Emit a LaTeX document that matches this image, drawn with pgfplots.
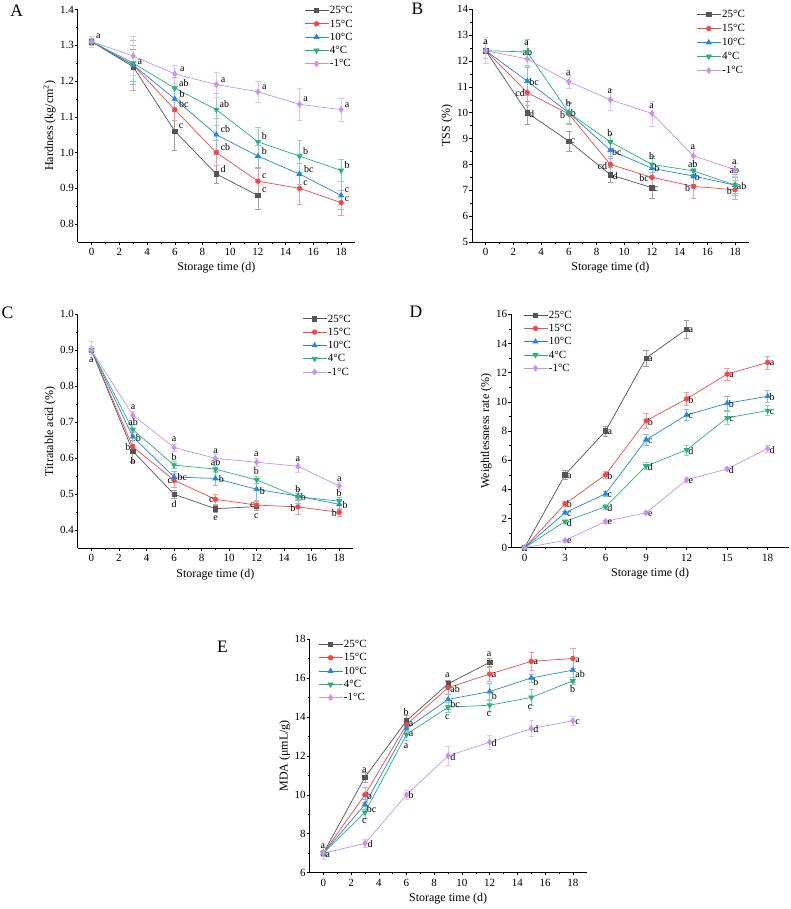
\documentclass[border=0pt]{standalone}
\usepackage{fontspec}
\setmainfont{Liberation Serif}
\usepackage{pgfplots}
\pgfplotsset{compat=1.18}
\definecolor{c25}{RGB}{85,85,85}
\definecolor{c15}{RGB}{248,70,70}
\definecolor{c10}{RGB}{30,136,229}
\definecolor{c4}{RGB}{40,178,120}
\definecolor{cm1}{RGB}{200,146,240}
\tikzset{lab/.style={font=\fontsize{10}{12}\selectfont, inner sep=0pt, text=black}}
\pgfplotsset{
  eb/.style={error bars/.cd, y dir=both, y explicit,
    error bar style={line width=0.6pt, color=#1!55},
    error mark=-,
    error mark options={rotate=90, mark size=2.7pt, line width=0.6pt, color=#1!55}},
  s25/.style={color=c25, line width=0.7pt, mark=square*, mark size=2.2pt, eb=c25},
  s15/.style={color=c15, line width=0.7pt, mark=*, mark size=2.3pt, eb=c15},
  s10/.style={color=c10, line width=0.7pt, mark=triangle*, mark size=2.9pt, eb=c10},
  s4/.style={color=c4, line width=0.7pt, mark=triangle*, mark size=2.9pt, mark options={rotate=180}, eb=c4},
  sm1/.style={color=cm1, line width=0.7pt, mark=diamond*, mark size=2.9pt, eb=cm1},
  panel/.style={
    scale only axis, axis lines=left, axis line style={-, line width=0.6pt},
    tick align=outside, major tick length=2.6pt, minor tick length=1.6pt,
    tick style={line width=0.5pt, black},
    minor x tick num=1, minor y tick num=1,
    /pgf/number format/assume math mode=true,
    ticklabel style={font=\fontsize{11}{13}\selectfont},
    yticklabel style={inner sep=1pt},
    label style={font=\fontsize{12}{14}\selectfont},
    xlabel={Storage time (d)},
    xmin=-1, xmax=19, xtick={0,2,...,18},
    legend cell align=left,
    legend style={draw=none, fill=none, inner sep=0pt, anchor=north west,
      font=\fontsize{11}{13}\selectfont, row sep=2.8pt,
      nodes={inner sep=1pt, text height=7.5pt, text depth=1pt}},
    legend image code/.code={\draw[mark repeat=2,mark phase=2] plot coordinates {(0pt,0pt) (12pt,0pt) (24pt,0pt)};},
    clip=false,
  },
}
\newcommand{\lb}[3]{\node[lab] at (axis cs:#1,#2) {#3};}
\begin{document}
\begin{tikzpicture}[x=1pt,y=1pt]
\path[use as bounding box] (0,0) rectangle (790,909);
% ---------------- A
\begin{axis}[panel, at={(77.7pt,667pt)}, anchor=south west, width=277.3pt, height=232.5pt,
  ymin=0.75, ymax=1.4, ytick={0.8,0.9,...,1.41},
  yticklabel style={/pgf/number format/.cd, fixed, fixed zerofill, precision=1},
  ylabel={Hardness (kg/cm\textsuperscript{2})},
  legend style={at={(0.816,1.019)}}]
\addplot[s25] table[x index=0,y index=1,y error index=2] {
0 1.31 0.015
3 1.24 0.05
6 1.06 0.055
9 0.94 0.025
12 0.88 0.04
};
\addplot[s15] table[x index=0,y index=1,y error index=2] {
0 1.31 0.015
3 1.245 0.07
6 1.12 0.03
9 1.00 0.035
12 0.92 0.035
15 0.90 0.045
18 0.86 0.035
};
\addplot[s10] table[x index=0,y index=1,y error index=2] {
0 1.31 0.015
3 1.245 0.055
6 1.15 0.03
9 1.05 0.045
12 0.99 0.03
15 0.94 0.03
18 0.88 0.04
};
\addplot[s4] table[x index=0,y index=1,y error index=2] {
0 1.31 0.01
3 1.25 0.05
6 1.18 0.03
9 1.12 0.045
12 1.03 0.04
15 0.99 0.045
18 0.95 0.03
};
\addplot[sm1] table[x index=0,y index=1,y error index=2] {
0 1.31 0.015
3 1.27 0.055
6 1.22 0.025
9 1.19 0.035
12 1.17 0.03
15 1.135 0.045
18 1.12 0.033
};
\legend{25°C,15°C,10°C,4°C,-1°C}
\lb{0.48}{1.326}{a}
\lb{3.48}{1.253}{a}
\lb{6.54}{1.234}{a}\lb{6.66}{1.194}{ab}\lb{6.54}{1.164}{b}\lb{6.66}{1.135}{bc}\lb{6.46}{1.073}{c}
\lb{9.49}{1.203}{a}\lb{9.58}{1.135}{ab}\lb{9.66}{1.065}{cb}\lb{9.66}{1.015}{cb}\lb{9.49}{0.954}{d}
\lb{12.47}{1.183}{a}\lb{12.47}{1.045}{b}\lb{12.47}{1.003}{b}\lb{12.47}{0.935}{c}\lb{12.47}{0.894}{c}
\lb{15.43}{1.149}{a}\lb{15.43}{1.003}{b}\lb{15.67}{0.954}{bc}\lb{15.43}{0.913}{c}
\lb{18.43}{1.132}{a}\lb{18.43}{0.964}{b}\lb{18.43}{0.895}{c}\lb{18.43}{0.870}{c}
\end{axis}
% ---------------- B
\begin{axis}[panel, at={(471.85pt,667pt)}, anchor=south west, width=277pt, height=232.7pt,
  ymin=5, ymax=14, ytick={5,6,...,14},
  ylabel={TSS (\%)},
  legend style={at={(0.81,1.001)}, row sep=3.5pt}]
\addplot[s25] table[x index=0,y index=1,y error index=2] {
0 12.4 0.5
3 10.0 0.45
6 8.9 0.38
9 7.6 0.3
12 7.1 0.42
};
\addplot[s15] table[x index=0,y index=1,y error index=2] {
0 12.4 0.3
3 10.78 0.5
6 9.95 0.4
9 8.0 0.3
12 7.5 0.3
15 7.15 0.45
18 7.02 0.35
};
\addplot[s10] table[x index=0,y index=1,y error index=2] {
0 12.4 0.3
3 11.22 0.55
6 10.0 0.4
9 8.55 0.3
12 7.85 0.4
15 7.55 0.3
18 7.2 0.4
};
\addplot[s4] table[x index=0,y index=1,y error index=2] {
0 12.4 0.3
3 12.35 0.5
6 10.0 0.4
9 8.87 0.3
12 8.0 0.3
15 7.75 0.3
18 7.2 0.3
};
\addplot[sm1] table[x index=0,y index=1,y error index=2] {
0 12.4 0.5
3 12.08 0.3
6 11.2 0.25
9 10.5 0.4
12 9.97 0.48
15 8.33 0.3
18 7.8 0.25
};
\legend{25°C,15°C,10°C,4°C,-1°C}
\lb{0}{12.71}{a}
\lb{2.96}{12.68}{a}\lb{3.01}{12.35}{ab}\lb{3.49}{11.19}{bc}\lb{2.48}{10.75}{cd}\lb{3.32}{9.96}{d}
\lb{5.97}{11.51}{a}\lb{5.97}{10.37}{b}\lb{5.56}{9.90}{b}\lb{6.33}{10.0}{b}\lb{6.3}{8.88}{c}
\lb{8.97}{10.84}{a}\lb{8.97}{9.20}{b}\lb{9.46}{8.49}{bc}\lb{8.42}{7.95}{cd}\lb{9.36}{7.53}{d}
\lb{11.98}{10.26}{a}\lb{11.98}{8.32}{b}\lb{12.35}{7.84}{b}\lb{11.43}{7.46}{bc}\lb{12.3}{7.06}{c}
\lb{14.95}{8.65}{a}\lb{14.95}{8.03}{ab}\lb{15.28}{7.51}{b}\lb{14.58}{7.10}{b}
\lb{17.95}{8.08}{a}\lb{17.95}{7.80}{ab}\lb{18.48}{7.18}{ab}\lb{17.59}{6.97}{b}
\end{axis}
% ---------------- C
\begin{axis}[panel, at={(77.7pt,360.7pt)}, anchor=south west, width=275.3pt, height=234pt,
  ymin=0.35, ymax=1.0, ytick={0.4,0.5,...,1.01},
  yticklabel style={/pgf/number format/.cd, fixed, fixed zerofill, precision=1},
  ylabel={Titratable acid (\%)},
  legend style={at={(0.815,1.004)}}]
\addplot[s25] table[x index=0,y index=1,y error index=2] {
0 0.9 0.01
3 0.62 0.03
6 0.50 0.01
9 0.46 0.01
12 0.466 0.01
};
\addplot[s15] table[x index=0,y index=1,y error index=2] {
0 0.9 0.01
3 0.632 0.04
6 0.539 0.02
9 0.486 0.013
12 0.47 0.01
15 0.465 0.02
18 0.45 0.01
};
\addplot[s10] table[x index=0,y index=1,y error index=2] {
0 0.9 0.01
3 0.66 0.02
6 0.548 0.015
9 0.544 0.02
12 0.514 0.03
15 0.495 0.02
18 0.472 0.015
};
\addplot[s4] table[x index=0,y index=1,y error index=2] {
0 0.9 0.01
3 0.68 0.015
6 0.581 0.01
9 0.57 0.01
12 0.54 0.01
15 0.493 0.01
18 0.481 0.01
};
\addplot[sm1] table[x index=0,y index=1,y error index=2] {
0 0.9 0.025
3 0.72 0.01
6 0.63 0.01
9 0.60 0.01
12 0.589 0.01
15 0.578 0.018
18 0.523 0.01
};
\legend{25°C,15°C,10°C,4°C,-1°C}
\lb{0}{0.873}{a}
\lb{3.02}{0.741}{a}\lb{3.02}{0.70}{ab}\lb{3.4}{0.657}{b}\lb{2.65}{0.63}{b}\lb{3.02}{0.593}{b}
\lb{6.0}{0.652}{a}\lb{6.0}{0.604}{b}\lb{6.61}{0.548}{bc}\lb{5.69}{0.537}{c}\lb{6.0}{0.474}{d}
\lb{9.02}{0.62}{a}\lb{9.02}{0.589}{ab}\lb{9.43}{0.541}{b}\lb{8.71}{0.485}{c}\lb{9.02}{0.434}{e}
\lb{11.98}{0.611}{a}\lb{11.98}{0.564}{b}\lb{12.41}{0.51}{b}\lb{11.69}{0.47}{c}\lb{11.98}{0.439}{c}
\lb{15.0}{0.598}{a}\lb{15.0}{0.514}{b}\lb{15.4}{0.493}{b}\lb{14.63}{0.463}{b}
\lb{18.0}{0.543}{a}\lb{18.0}{0.504}{b}\lb{18.42}{0.47}{b}\lb{17.64}{0.448}{b}
\end{axis}
% ---------------- D
\begin{axis}[panel, at={(511pt,361.3pt)}, anchor=south west, width=278.3pt, height=233.4pt,
  xmin=-1, xmax=19.6, xtick={0,3,...,18},
  ymin=0, ymax=16, ytick={0,2,...,16},
  ylabel={Weightlessness rate (\%)},
  legend style={at={(0.043,1.02)}}]
\addplot[s25] table[x index=0,y index=1,y error index=2] {
0 0 0
3 5.0 0.3
6 8.0 0.35
9 13.0 0.55
12 14.98 0.6
};
\addplot[s15] table[x index=0,y index=1,y error index=2] {
0 0 0
3 3.0 0.15
6 5.0 0.25
9 8.7 0.5
12 10.2 0.45
15 11.9 0.4
18 12.7 0.45
};
\addplot[s10] table[x index=0,y index=1,y error index=2] {
0 0 0
3 2.4 0.1
6 3.7 0.15
9 7.4 0.35
12 9.1 0.4
15 9.9 0.45
18 10.38 0.4
};
\addplot[s4] table[x index=0,y index=1,y error index=2] {
0 0 0
3 1.8 0.1
6 2.8 0.15
9 5.6 0.25
12 6.7 0.35
15 8.9 0.45
18 9.4 0.35
};
\addplot[sm1] table[x index=0,y index=1,y error index=2] {
0 0 0
3 0.5 0.1
6 1.8 0.1
9 2.4 0.1
12 4.65 0.2
15 5.4 0.1
18 6.8 0.25
};
\legend{25°C,15°C,10°C,4°C,-1°C}
\lb{3.32}{4.92}{a}\lb{3.32}{3.0}{b}\lb{3.32}{2.32}{c}\lb{3.32}{1.66}{d}\lb{3.32}{0.42}{e}
\lb{6.32}{7.92}{a}\lb{6.32}{4.92}{b}\lb{6.32}{3.62}{c}\lb{6.32}{2.72}{d}\lb{6.32}{1.72}{e}
\lb{9.32}{12.92}{a}\lb{9.32}{8.62}{b}\lb{9.32}{7.32}{c}\lb{9.32}{5.52}{d}\lb{9.32}{2.32}{e}
\lb{12.32}{14.9}{a}\lb{12.32}{10.12}{b}\lb{12.32}{9.02}{c}\lb{12.32}{6.62}{d}\lb{12.32}{4.57}{e}
\lb{15.32}{11.82}{a}\lb{15.32}{9.82}{b}\lb{15.32}{8.82}{c}\lb{15.32}{5.32}{d}
\lb{18.32}{12.62}{a}\lb{18.32}{10.32}{b}\lb{18.32}{9.32}{c}\lb{18.32}{6.72}{d}
\end{axis}
% ---------------- E
\begin{axis}[panel, at={(309.45pt,36.3pt)}, anchor=south west, width=277.25pt, height=233.7pt,
  ymin=6, ymax=18, ytick={6,8,...,18},
  ylabel={MDA (μmL/g)},
  legend style={at={(0.031,1.0)}}]
\addplot[s25] table[x index=0,y index=1,y error index=2] {
0 7.0 0.15
3 10.9 0.25
6 13.8 0.3
9 15.7 0.2
12 16.8 0.2
};
\addplot[s15] table[x index=0,y index=1,y error index=2] {
0 7.0 0.15
3 10.0 0.4
6 13.6 0.35
9 15.5 0.35
12 16.2 0.35
15 16.85 0.45
18 17.0 0.5
};
\addplot[s10] table[x index=0,y index=1,y error index=2] {
0 7.0 0.15
3 9.5 0.25
6 13.4 0.3
9 14.9 0.5
12 15.3 0.45
15 16.0 0.2
18 16.4 0.6
};
\addplot[s4] table[x index=0,y index=1,y error index=2] {
0 7.0 0.15
3 9.1 0.3
6 13.1 0.3
9 14.5 0.25
12 14.6 0.3
15 15.0 0.4
18 15.85 0.2
};
\addplot[sm1] table[x index=0,y index=1,y error index=2] {
0 7.0 0.3
3 7.5 0.2
6 10.0 0.25
9 12.0 0.5
12 12.7 0.35
15 13.4 0.4
18 13.8 0.25
};
\legend{25°C,15°C,10°C,4°C,-1°C}
\lb{-0.04}{7.34}{a}\lb{0.32}{6.91}{a}
\lb{2.96}{11.27}{a}\lb{3.32}{9.94}{b}\lb{3.49}{9.27}{bc}\lb{2.96}{8.67}{c}\lb{3.37}{7.46}{d}
\lb{5.97}{14.23}{b}\lb{6.33}{13.62}{a}\lb{6.33}{13.1}{a}\lb{5.97}{12.5}{a}\lb{6.33}{9.97}{b}
\lb{8.95}{16.12}{a}\lb{9.51}{15.42}{ab}\lb{9.51}{14.66}{bc}\lb{8.95}{14.01}{c}\lb{9.34}{11.96}{d}
\lb{11.96}{17.23}{a}\lb{12.32}{16.15}{a}\lb{12.34}{15.07}{b}\lb{11.96}{14.13}{c}\lb{12.32}{12.64}{d}
\lb{15.33}{16.8}{a}\lb{15.33}{15.81}{b}\lb{14.92}{14.49}{c}\lb{15.33}{13.36}{d}
\lb{18.34}{16.92}{a}\lb{18.53}{16.2}{ab}\lb{17.98}{15.42}{b}\lb{18.34}{13.75}{c}
\end{axis}
% panel letters
\node[font=\fontsize{17.5}{20}\selectfont] at (16.7,898.2) {A};
\node[font=\fontsize{17.5}{20}\selectfont] at (417.5,899.8) {B};
\node[font=\fontsize{17.5}{20}\selectfont] at (7.5,596.5) {C};
\node[font=\fontsize{17.5}{20}\selectfont] at (416,597) {D};
\node[font=\fontsize{17.5}{20}\selectfont] at (222.5,262.5) {E};
\end{tikzpicture}
\end{document}
